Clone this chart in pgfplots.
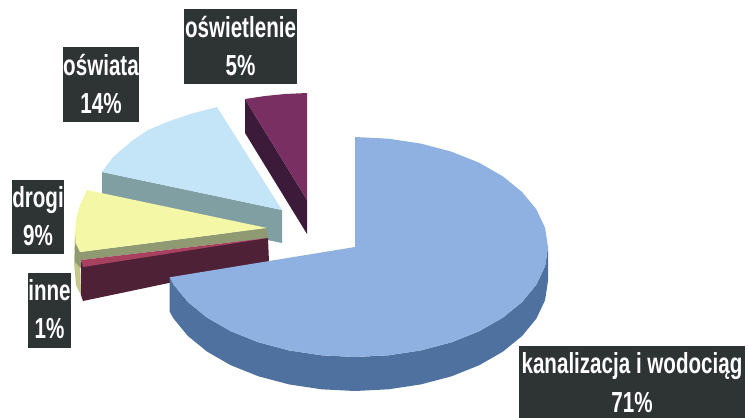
\documentclass[border=0pt]{standalone}
\usepackage{graphicx}
\usepackage{fontspec}
\setmainfont{Liberation Sans}
\usepackage{pgfplots}
\pgfplotsset{compat=1.18}
\definecolor{boxc}{HTML}{2E3333}
\definecolor{bigtop}{HTML}{8FB1E2}
\definecolor{bigside}{HTML}{4F719F}
\definecolor{ostop}{HTML}{C4E4F8}
\definecolor{osside}{HTML}{7F9FA3}
\definecolor{putop}{HTML}{7A2F62}
\definecolor{puside}{HTML}{3B1B39}
\definecolor{yetop}{HTML}{F4F7A6}
\definecolor{yeside}{HTML}{8F9A72}
\definecolor{yestrip}{HTML}{C4C88C}
\definecolor{matop}{HTML}{A8405F}
\definecolor{maside}{HTML}{4E2136}
\newcommand{\lab}[3]{\node[anchor=base,text=white,inner sep=0pt] at (axis cs:#1,#2) {\fontsize{29}{29}\selectfont\bfseries\scalebox{0.71}[1]{#3}};}
\pgfplotsset{every axis plot/.append style={line width=0pt}}
\begin{document}
\begin{tikzpicture}
\begin{axis}[scale only axis,width=748pt,height=418pt,xmin=0,xmax=748,ymin=0,ymax=418,y dir=reverse,axis lines=none,clip=true]
\path (axis cs:0,0) rectangle (axis cs:748,418);
% oswiata
\addplot[fill=osside,draw=none] coordinates {(102,172)(282,210)(282,243)(102,206)};
\addplot[fill=ostop,draw=none] coordinates {(102,172)(113,157)(133,140)(148,130)(167,122)(190,114)(217,107)(282,210)};
% oswietlenie
\addplot[fill=puside,draw=none] coordinates {(245,99)(307,200)(307,234)(245,133)};
\addplot[fill=putop,draw=none] coordinates {(245,99)(265,96)(285,94)(307,93)(307,200)};
% drogi side
\addplot[fill=yestrip,draw=none] coordinates {(75,232)(80,252)(81,295)(76,285)(74,262)};
\addplot[fill=yeside,draw=none] coordinates {(75,243)(80,252)(267,228)(268,238)(81,260)(81,268)(75,262)};
% inne
\addplot[fill=maside,draw=none] coordinates {(81,262)(268,238)(269,262)(83,301)(81,295)};
\addplot[fill=matop,draw=none] coordinates {(81,260)(268,238)(83,267)};
% drogi top
\addplot[fill=yetop,draw=none] coordinates {(87,190)(80,205)(76,220)(75,232)(76,243)(80,252)(267,228)};
% kanalizacja
\addplot[fill=bigside,draw=none] coordinates {(548,247)(545.1,266.1)(536.4,284.6)(522.1,302)(502.8,317.7)(479.1,331.3)(451.5,342.3)(421,350.4)(388.5,355.3)(355,357)(321.5,355.3)(289,350.4)(258.5,342.3)(230.9,331.3)(207.2,317.7)(187.9,302)(173.6,284.6)(169.5,277.3)(169.5,311.3)(173.6,318.6)(187.9,336)(207.2,351.7)(230.9,365.3)(258.5,376.3)(289,384.4)(321.5,389.3)(355,391)(388.5,389.3)(421,384.4)(451.5,376.3)(479.1,365.3)(502.8,351.7)(522.1,336)(536.4,318.6)(545.1,300.1)(548,281)};
\addplot[fill=bigtop,draw=none] coordinates {(355,247)(355,137)(388.5,138.7)(421,143.6)(451.5,151.7)(479.1,162.7)(502.8,176.3)(522.1,192)(536.4,209.4)(545.1,227.9)(548,247)(545.1,266.1)(536.4,284.6)(522.1,302)(502.8,317.7)(479.1,331.3)(451.5,342.3)(421,350.4)(388.5,355.3)(355,357)(321.5,355.3)(289,350.4)(258.5,342.3)(230.9,331.3)(207.2,317.7)(187.9,302)(173.6,284.6)(169.5,277.3)};
% label boxes
\addplot[fill=boxc,draw=none] coordinates {(184,9)(297,9)(297,84)(184,84)};
\addplot[fill=boxc,draw=none] coordinates {(63,47)(139,47)(139,122)(63,122)};
\addplot[fill=boxc,draw=none] coordinates {(12,180)(64,180)(64,254)(12,254)};
\addplot[fill=boxc,draw=none] coordinates {(28,273)(71,273)(71,348)(28,348)};
\addplot[fill=boxc,draw=none] coordinates {(519,346)(745,346)(745,418)(519,418)};
\lab{240.5}{37}{oświetlenie}
\lab{240.5}{75}{5\%}
\lab{101}{75}{oświata}
\lab{101}{113}{14\%}
\lab{38}{207}{drogi}
\lab{38}{245}{9\%}
\lab{49.5}{300}{inne}
\lab{49.5}{338}{1\%}
\lab{632}{373}{kanalizacja i wodociąg}
\lab{632}{412}{71\%}
\end{axis}
\end{tikzpicture}
\end{document}
